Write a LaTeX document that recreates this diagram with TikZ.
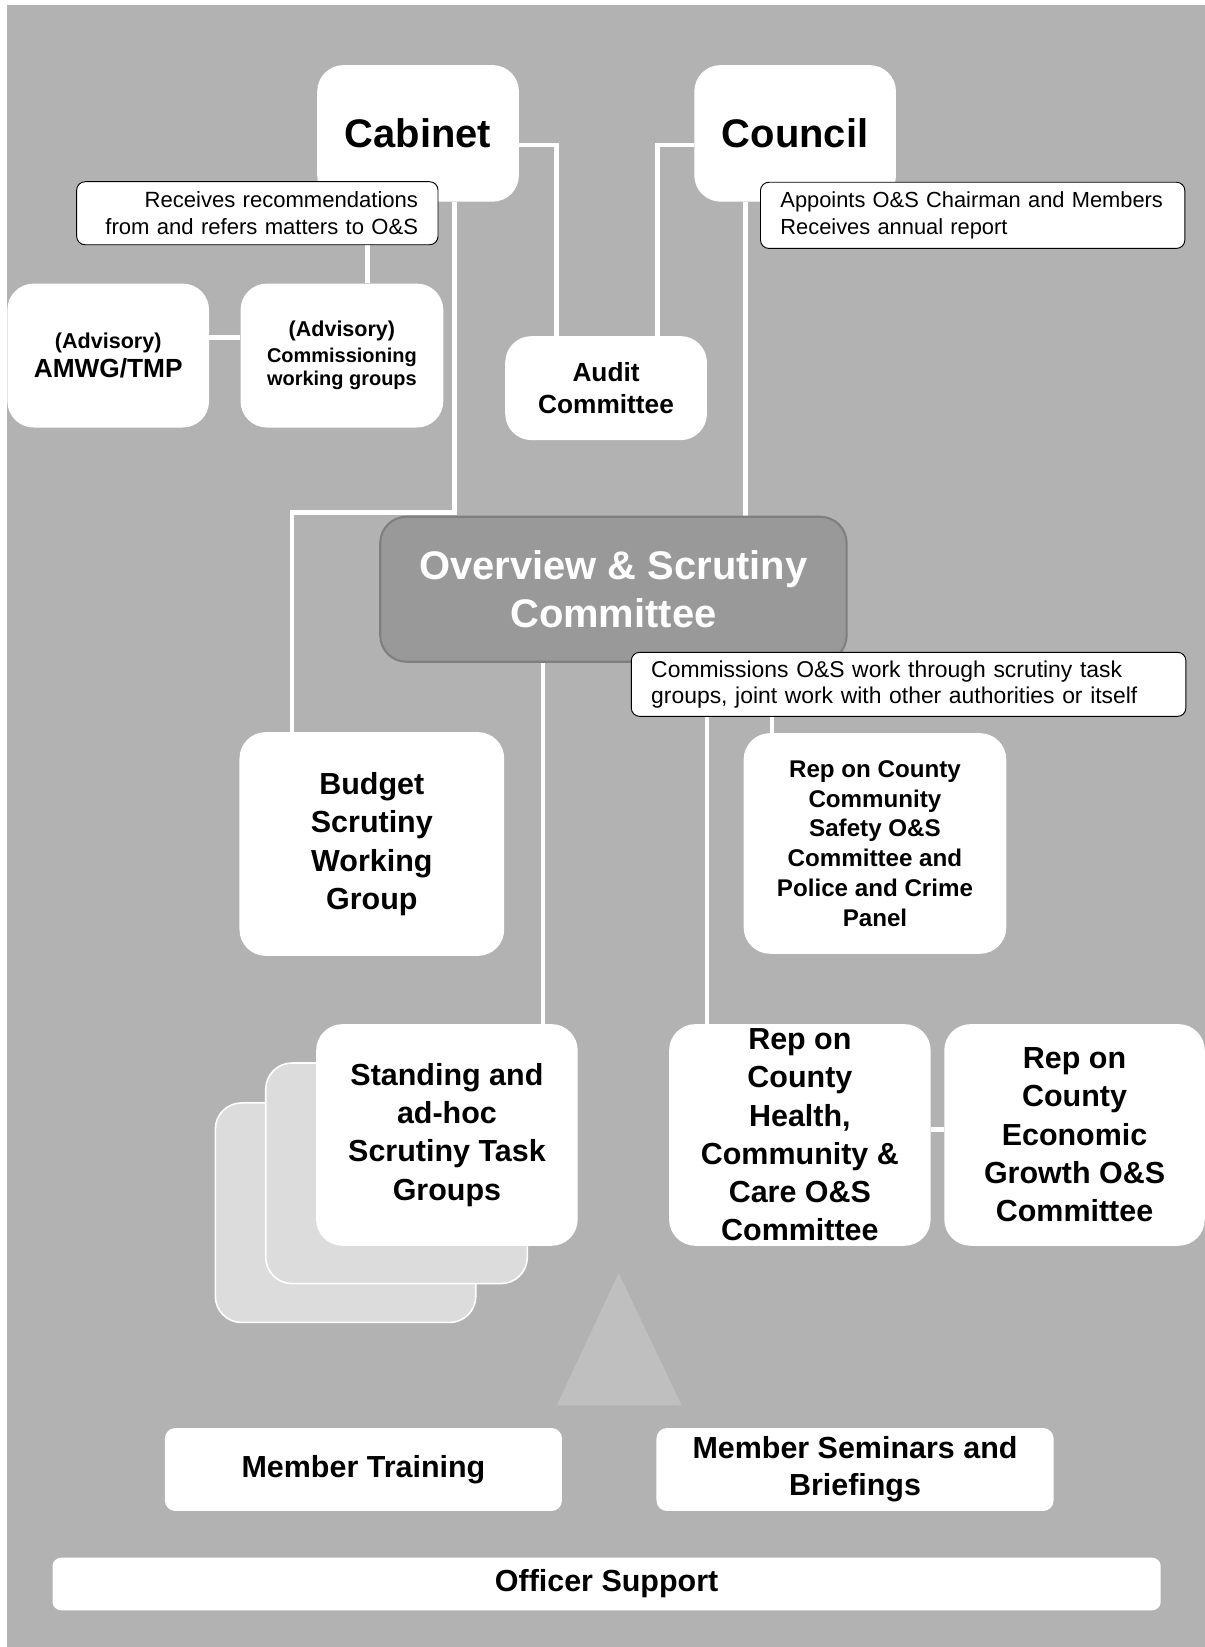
\documentclass[tikz,border=0pt]{standalone}
\usepackage{fontspec}
\setmainfont{Liberation Sans}
\usetikzlibrary{calc}

\definecolor{panelgrey}{HTML}{B2B2B2}
\definecolor{osgrey}{HTML}{999999}
\definecolor{osedge}{HTML}{7F7F7F}
\definecolor{stackgrey}{HTML}{DCDCDC}
\definecolor{peakgrey}{HTML}{BFBFBF}
\pgfdeclarelayer{panel}
\pgfdeclarelayer{links}
\pgfsetlayers{panel,links,main}
\newcommand{\fsz}[2]{\fontsize{#1}{#2}\selectfont}

\tikzset{
  box/.style={rectangle, rounded corners=25pt, fill=white, draw=none, inner sep=0pt, align=center},
  flatbox/.style={box, rounded corners=10pt},
  stackbox/.style={box, fill=stackgrey, draw=white, line width=1.5pt},
  notebox/.style={rectangle, rounded corners=8pt, fill=white, draw=black, line width=0.9pt, inner ysep=0pt, inner xsep=19pt},
  link/.style={draw=white, line width=4.5pt}
}

\begin{document}
\begin{tikzpicture}[x=1pt, y=-1pt]
      \begin{pgfonlayer}{panel}
        \fill[white] (0,0) rectangle (1147,1568);
        \fill[panelgrey] (7,5) rectangle (1147,1568);
      \end{pgfonlayer}
      \useasboundingbox (0,0) rectangle (1147,1568);

      % top row
      \node[box, minimum width=192pt, minimum height=130pt, font=\fsz{38}{46}\bfseries] (cab) at (398,127) {Cabinet};
      \node[box, minimum width=192pt, minimum height=130pt, font=\fsz{38}{46}\bfseries] (coun) at (757,127) {Council};
      \node[box, minimum width=192pt, minimum height=137pt, font=\fsz{25}{28}\bfseries] (amwg) at (103,338.5)
        {{\fsz{20.5}{28}(Advisory)}\\AMWG/TMP};
      \node[box, minimum width=193pt, minimum height=137pt, font=\fsz{19}{22}\bfseries] (comm) at (325.5,338.5)
        {{\fsz{20.5}{22}(Advisory)}\\[3pt]Commissioning\\working groups};
      \node[box, minimum width=192pt, minimum height=99pt, font=\fsz{25}{31}\bfseries] (audit) at (577,369.5) {Audit\\Committee};

      \node[box, fill=osgrey, draw=osedge, line width=2pt, text=white, minimum width=444pt, minimum height=138pt,
        font=\fsz{38}{46}\bfseries] (osc) at (584,561) {Overview \& Scrutiny\\Committee};

      \node[box, minimum width=252pt, minimum height=213pt, font=\fsz{29}{36.5}\bfseries] (budget) at (354,803.5)
        {Budget\\Scrutiny\\Working\\Group};
      \node[box, minimum width=250pt, minimum height=210pt, font=\fsz{23}{28.4}\bfseries] (safety) at (833,803)
        {Rep on County\\Community\\Safety O\&S\\Committee and\\Police and Crime\\Panel};

      \node[stackbox, minimum width=248pt, minimum height=209pt] (stackc) at (329,1154.5) {};
      \node[stackbox, minimum width=249pt, minimum height=210pt] (stackb) at (377.5,1117) {};
      \node[box, minimum width=249pt, minimum height=211pt, font=\fsz{29}{36.5}\bfseries] (stand) at (425.5,1080.5)
        {Standing and\\ad-hoc\\Scrutiny Task\\Groups};
      \node[box, minimum width=249pt, minimum height=211pt, font=\fsz{29}{36.4}\bfseries] (health) at (761.5,1080.5)
        {Rep on\\County\\Health,\\Community \&\\Care O\&S\\Committee};
      \node[box, minimum width=248pt, minimum height=211pt, font=\fsz{29}{36.5}\bfseries] (econ) at (1023,1080.5)
        {Rep on\\County\\Economic\\Growth O\&S\\Committee};

      \fill[peakgrey] (589,1212) -- (649,1338) -- (530,1338) -- cycle;

      \node[flatbox, minimum width=378pt, minimum height=79pt, font=\fsz{29}{35}\bfseries] (train) at (346,1399) {Member Training};
      \node[flatbox, minimum width=378pt, minimum height=79pt, font=\fsz{29}{35}\bfseries] (seminar) at (814,1399)
        {Member Seminars and\\Briefings};
      \node[flatbox, rounded corners=8pt, minimum width=1055pt, minimum height=50pt, font=\fsz{29}{35}\bfseries] (officer) at (577.5,1508)
        {Officer Support};

      % notes
      \node[notebox, text width=306pt, align=right, minimum height=60pt, font=\fsz{21}{25.5}] (cabnote) at (245,203)
        {Receives recommendations\\from and refers matters to O\&S};
      \node[notebox, text width=366pt, align=left, minimum height=63pt, font=\fsz{20.8}{26}] (counnote) at (926,205)
        {\mbox{Appoints O\&S Chairman and Members}\\Receives annual report};
      \node[notebox, text width=490pt, align=left, minimum height=61pt, font=\fsz{21.8}{25}] (osnote) at (865,651.5)
        {Commissions O\&S work through scrutiny task\\groups, joint work with other authorities or itself};

      \begin{pgfonlayer}{links}
        \draw[link] ($(cab.east)+(0,11)$) -| ($(audit.north)+(-47,0)$);
        \draw[link] ($(coun.west)+(0,11)$) -| ($(audit.north)+(49,0)$);
        \draw[link] ($(comm.north)+(24.5,0)$) coordinate (c1) -- (c1 |- cabnote.south);
        \draw[link] ($(amwg.east)+(0,-17.5)$) -- ($(comm.west)+(0,-17.5)$);
        \draw[link] ($(cab.south)+(35,0)$) -- ++(0,296) -| ($(budget.north)+(-76,0)$);
        \draw[link] ($(coun.south)+(-47,0)$) -- ($(osc.north)+(126,0)$);
        \draw[link] ($(osc.south)+(-67,0)$) -- ($(stand.north)+(91.5,0)$);
        \draw[link] ($(health.north)+(-88.5,0)$) coordinate (c2) -- (c2 |- osnote.south);
        \draw[link] ($(safety.north)+(-98,0)$) coordinate (c3) -- (c3 |- osnote.south);
        \draw[link] ($(health.east)+(0,-5)$) -- ($(econ.west)+(0,-5)$);
      \end{pgfonlayer}

\end{tikzpicture}
\end{document}
